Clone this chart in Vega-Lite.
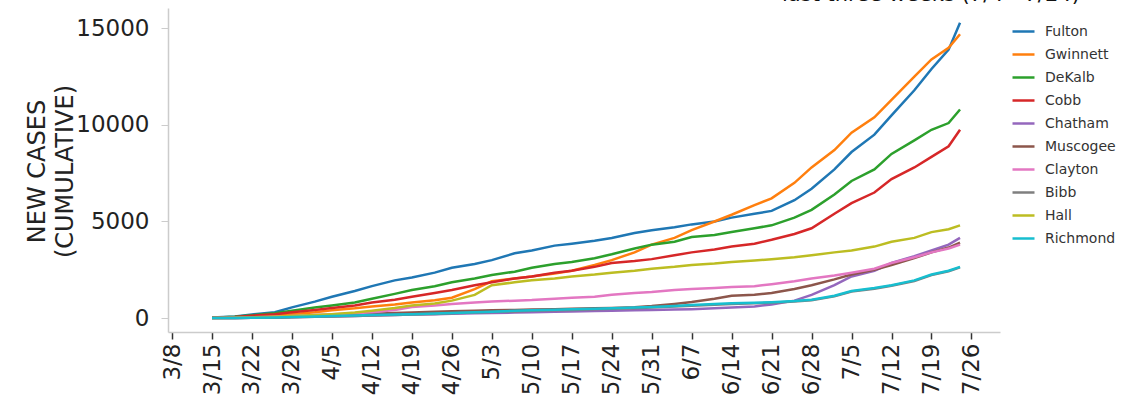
{
  "$schema": "https://vega.github.io/schema/vega-lite/v6.json",
  "width": 832,
  "height": 324,
  "autosize": {"type": "none"},
  "padding": {"left": 168, "top": 8, "right": 138, "bottom": 73},
  "background": "white",
  "config": {"view": {"stroke": null}, "font": "DejaVu Sans"},
  "title": {"text": "last three weeks (7/4 - 7/24)", "anchor": "start", "frame": "group", "offset": 0, "dx": 614, "dy": 14, "baseline": "alphabetic", "fontSize": 21, "fontWeight": "normal", "color": "#111"},
  "data": {"values": [
    {"d": "2020-03-15", "Fulton": 20, "Gwinnett": 10, "DeKalb": 10, "Cobb": 10, "Chatham": 0, "Muscogee": 0, "Clayton": 0, "Bibb": 0, "Hall": 0, "Richmond": 0},
    {"d": "2020-03-19", "Fulton": 80, "Gwinnett": 40, "DeKalb": 60, "Cobb": 50, "Chatham": 5, "Muscogee": 5, "Clayton": 10, "Bibb": 5, "Hall": 10, "Richmond": 5},
    {"d": "2020-03-22", "Fulton": 180, "Gwinnett": 80, "DeKalb": 140, "Cobb": 120, "Chatham": 10, "Muscogee": 15, "Clayton": 30, "Bibb": 10, "Hall": 30, "Richmond": 15},
    {"d": "2020-03-26", "Fulton": 300, "Gwinnett": 130, "DeKalb": 250, "Cobb": 200, "Chatham": 20, "Muscogee": 30, "Clayton": 60, "Bibb": 20, "Hall": 60, "Richmond": 30},
    {"d": "2020-03-29", "Fulton": 550, "Gwinnett": 200, "DeKalb": 380, "Cobb": 300, "Chatham": 40, "Muscogee": 60, "Clayton": 100, "Bibb": 40, "Hall": 100, "Richmond": 50},
    {"d": "2020-04-02", "Fulton": 850, "Gwinnett": 300, "DeKalb": 550, "Cobb": 420, "Chatham": 60, "Muscogee": 100, "Clayton": 150, "Bibb": 60, "Hall": 150, "Richmond": 80},
    {"d": "2020-04-05", "Fulton": 1100, "Gwinnett": 400, "DeKalb": 650, "Cobb": 520, "Chatham": 80, "Muscogee": 140, "Clayton": 190, "Bibb": 80, "Hall": 200, "Richmond": 100},
    {"d": "2020-04-09", "Fulton": 1400, "Gwinnett": 500, "DeKalb": 800, "Cobb": 650, "Chatham": 100, "Muscogee": 180, "Clayton": 240, "Bibb": 110, "Hall": 280, "Richmond": 130},
    {"d": "2020-04-12", "Fulton": 1650, "Gwinnett": 600, "DeKalb": 1000, "Cobb": 800, "Chatham": 130, "Muscogee": 220, "Clayton": 300, "Bibb": 130, "Hall": 380, "Richmond": 150},
    {"d": "2020-04-16", "Fulton": 1950, "Gwinnett": 700, "DeKalb": 1250, "Cobb": 950, "Chatham": 160, "Muscogee": 260, "Clayton": 420, "Bibb": 160, "Hall": 520, "Richmond": 180},
    {"d": "2020-04-19", "Fulton": 2100, "Gwinnett": 800, "DeKalb": 1450, "Cobb": 1100, "Chatham": 180, "Muscogee": 290, "Clayton": 570, "Bibb": 180, "Hall": 650, "Richmond": 200},
    {"d": "2020-04-23", "Fulton": 2350, "Gwinnett": 920, "DeKalb": 1650, "Cobb": 1300, "Chatham": 200, "Muscogee": 320, "Clayton": 650, "Bibb": 210, "Hall": 750, "Richmond": 230},
    {"d": "2020-04-26", "Fulton": 2600, "Gwinnett": 1050, "DeKalb": 1850, "Cobb": 1450, "Chatham": 220, "Muscogee": 350, "Clayton": 720, "Bibb": 240, "Hall": 900, "Richmond": 260},
    {"d": "2020-04-30", "Fulton": 2800, "Gwinnett": 1500, "DeKalb": 2050, "Cobb": 1700, "Chatham": 240, "Muscogee": 380, "Clayton": 800, "Bibb": 280, "Hall": 1200, "Richmond": 300},
    {"d": "2020-05-03", "Fulton": 3000, "Gwinnett": 1900, "DeKalb": 2230, "Cobb": 1850, "Chatham": 260, "Muscogee": 400, "Clayton": 850, "Bibb": 310, "Hall": 1700, "Richmond": 330},
    {"d": "2020-05-07", "Fulton": 3350, "Gwinnett": 2050, "DeKalb": 2400, "Cobb": 2050, "Chatham": 280, "Muscogee": 420, "Clayton": 900, "Bibb": 340, "Hall": 1850, "Richmond": 370},
    {"d": "2020-05-10", "Fulton": 3500, "Gwinnett": 2150, "DeKalb": 2600, "Cobb": 2150, "Chatham": 300, "Muscogee": 440, "Clayton": 930, "Bibb": 370, "Hall": 1950, "Richmond": 400},
    {"d": "2020-05-14", "Fulton": 3750, "Gwinnett": 2300, "DeKalb": 2800, "Cobb": 2350, "Chatham": 320, "Muscogee": 460, "Clayton": 1000, "Bibb": 400, "Hall": 2050, "Richmond": 430},
    {"d": "2020-05-17", "Fulton": 3850, "Gwinnett": 2450, "DeKalb": 2900, "Cobb": 2450, "Chatham": 340, "Muscogee": 480, "Clayton": 1050, "Bibb": 420, "Hall": 2150, "Richmond": 450},
    {"d": "2020-05-21", "Fulton": 4000, "Gwinnett": 2750, "DeKalb": 3100, "Cobb": 2650, "Chatham": 360, "Muscogee": 500, "Clayton": 1100, "Bibb": 450, "Hall": 2250, "Richmond": 480},
    {"d": "2020-05-24", "Fulton": 4150, "Gwinnett": 3000, "DeKalb": 3300, "Cobb": 2850, "Chatham": 380, "Muscogee": 520, "Clayton": 1200, "Bibb": 480, "Hall": 2350, "Richmond": 510},
    {"d": "2020-05-28", "Fulton": 4400, "Gwinnett": 3400, "DeKalb": 3600, "Cobb": 2950, "Chatham": 400, "Muscogee": 560, "Clayton": 1300, "Bibb": 510, "Hall": 2450, "Richmond": 540},
    {"d": "2020-05-31", "Fulton": 4550, "Gwinnett": 3800, "DeKalb": 3800, "Cobb": 3050, "Chatham": 420, "Muscogee": 620, "Clayton": 1350, "Bibb": 540, "Hall": 2550, "Richmond": 570},
    {"d": "2020-06-04", "Fulton": 4700, "Gwinnett": 4150, "DeKalb": 3950, "Cobb": 3250, "Chatham": 440, "Muscogee": 730, "Clayton": 1450, "Bibb": 590, "Hall": 2650, "Richmond": 620},
    {"d": "2020-06-07", "Fulton": 4850, "Gwinnett": 4550, "DeKalb": 4200, "Cobb": 3400, "Chatham": 460, "Muscogee": 830, "Clayton": 1500, "Bibb": 640, "Hall": 2750, "Richmond": 670},
    {"d": "2020-06-11", "Fulton": 5000, "Gwinnett": 5000, "DeKalb": 4300, "Cobb": 3550, "Chatham": 500, "Muscogee": 1000, "Clayton": 1550, "Bibb": 690, "Hall": 2820, "Richmond": 720},
    {"d": "2020-06-14", "Fulton": 5200, "Gwinnett": 5350, "DeKalb": 4450, "Cobb": 3700, "Chatham": 540, "Muscogee": 1150, "Clayton": 1600, "Bibb": 730, "Hall": 2900, "Richmond": 760},
    {"d": "2020-06-18", "Fulton": 5400, "Gwinnett": 5850, "DeKalb": 4650, "Cobb": 3850, "Chatham": 600, "Muscogee": 1200, "Clayton": 1650, "Bibb": 760, "Hall": 2980, "Richmond": 790},
    {"d": "2020-06-21", "Fulton": 5550, "Gwinnett": 6200, "DeKalb": 4800, "Cobb": 4050, "Chatham": 700, "Muscogee": 1300, "Clayton": 1750, "Bibb": 790, "Hall": 3050, "Richmond": 820},
    {"d": "2020-06-25", "Fulton": 6100, "Gwinnett": 7000, "DeKalb": 5200, "Cobb": 4350, "Chatham": 900, "Muscogee": 1500, "Clayton": 1900, "Bibb": 850, "Hall": 3150, "Richmond": 880},
    {"d": "2020-06-28", "Fulton": 6700, "Gwinnett": 7800, "DeKalb": 5600, "Cobb": 4650, "Chatham": 1200, "Muscogee": 1700, "Clayton": 2050, "Bibb": 920, "Hall": 3250, "Richmond": 950},
    {"d": "2020-07-02", "Fulton": 7700, "Gwinnett": 8700, "DeKalb": 6400, "Cobb": 5400, "Chatham": 1700, "Muscogee": 2000, "Clayton": 2200, "Bibb": 1120, "Hall": 3400, "Richmond": 1150},
    {"d": "2020-07-05", "Fulton": 8600, "Gwinnett": 9600, "DeKalb": 7100, "Cobb": 5950, "Chatham": 2150, "Muscogee": 2250, "Clayton": 2350, "Bibb": 1370, "Hall": 3500, "Richmond": 1400},
    {"d": "2020-07-09", "Fulton": 9500, "Gwinnett": 10400, "DeKalb": 7700, "Cobb": 6500, "Chatham": 2450, "Muscogee": 2500, "Clayton": 2550, "Bibb": 1520, "Hall": 3700, "Richmond": 1550},
    {"d": "2020-07-12", "Fulton": 10500, "Gwinnett": 11300, "DeKalb": 8500, "Cobb": 7200, "Chatham": 2850, "Muscogee": 2750, "Clayton": 2850, "Bibb": 1670, "Hall": 3950, "Richmond": 1700},
    {"d": "2020-07-16", "Fulton": 11800, "Gwinnett": 12500, "DeKalb": 9200, "Cobb": 7800, "Chatham": 3200, "Muscogee": 3100, "Clayton": 3150, "Bibb": 1920, "Hall": 4150, "Richmond": 1950},
    {"d": "2020-07-19", "Fulton": 12900, "Gwinnett": 13400, "DeKalb": 9750, "Cobb": 8350, "Chatham": 3500, "Muscogee": 3400, "Clayton": 3400, "Bibb": 2220, "Hall": 4450, "Richmond": 2250},
    {"d": "2020-07-22", "Fulton": 13900, "Gwinnett": 14000, "DeKalb": 10100, "Cobb": 8900, "Chatham": 3800, "Muscogee": 3650, "Clayton": 3600, "Bibb": 2420, "Hall": 4600, "Richmond": 2450},
    {"d": "2020-07-24", "Fulton": 15300, "Gwinnett": 14700, "DeKalb": 10800, "Cobb": 9750, "Chatham": 4150, "Muscogee": 3900, "Clayton": 3800, "Bibb": 2620, "Hall": 4800, "Richmond": 2650}
  ]},
  "transform": [
    {"fold": ["Fulton", "Gwinnett", "DeKalb", "Cobb", "Chatham", "Muscogee", "Clayton", "Bibb", "Hall", "Richmond"], "as": ["county", "cases"]}
  ],
  "mark": {"type": "line", "strokeWidth": 2.5},
  "encoding": {
    "x": {
      "field": "d", "type": "temporal",
      "scale": {"type": "utc", "domain": [{"year": 2020, "month": 3, "date": 7, "hours": 7, "utc": true}, {"year": 2020, "month": 7, "date": 31, "utc": true}]},
      "axis": {"title": null, "grid": false, "tickCount": {"interval": "week", "step": 1}, "format": "%-m/%-d", "labelAngle": -90, "labelFontSize": 23, "labelColor": "#222", "labelPadding": 4, "tickSize": 7, "tickColor": "#333", "tickWidth": 1.5, "domainColor": "#ccc", "domainWidth": 1.5, "labelOverlap": false, "labelFlush": false}
    },
    "y": {
      "field": "cases", "type": "quantitative",
      "scale": {"domain": [-725, 16060], "nice": false, "zero": false},
      "axis": {"values": [0, 5000, 10000, 15000], "format": "d", "grid": false, "labelFontSize": 23, "labelColor": "#222", "labelPadding": 12, "tickSize": 7, "tickColor": "#ccc", "domainColor": "#ccc", "domainWidth": 1.5,
        "title": ["NEW CASES", "(CUMULATIVE)"], "titleFontSize": 24, "titleFontWeight": "normal", "titleColor": "#222", "titleAngle": -90, "titleX": -131, "titleY": 163, "titleAlign": "center", "titleBaseline": "middle", "titleLineHeight": 28}
    },
    "color": {
      "field": "county", "type": "nominal",
      "sort": ["Fulton", "Gwinnett", "DeKalb", "Cobb", "Chatham", "Muscogee", "Clayton", "Bibb", "Hall", "Richmond"],
      "scale": {"domain": ["Fulton", "Gwinnett", "DeKalb", "Cobb", "Chatham", "Muscogee", "Clayton", "Bibb", "Hall", "Richmond"], "range": ["#1f77b4", "#ff7f0e", "#2ca02c", "#d62728", "#9467bd", "#8c564b", "#e377c2", "#7f7f7f", "#bcbd22", "#17becf"]},
      "legend": {"orient": "none", "legendX": 843, "legendY": 11, "title": null, "symbolType": "stroke", "symbolStrokeWidth": 2.5, "symbolSize": 484, "labelFontSize": 14, "labelColor": "#333", "rowPadding": 3, "labelOffset": 9}
    }
  }
}
